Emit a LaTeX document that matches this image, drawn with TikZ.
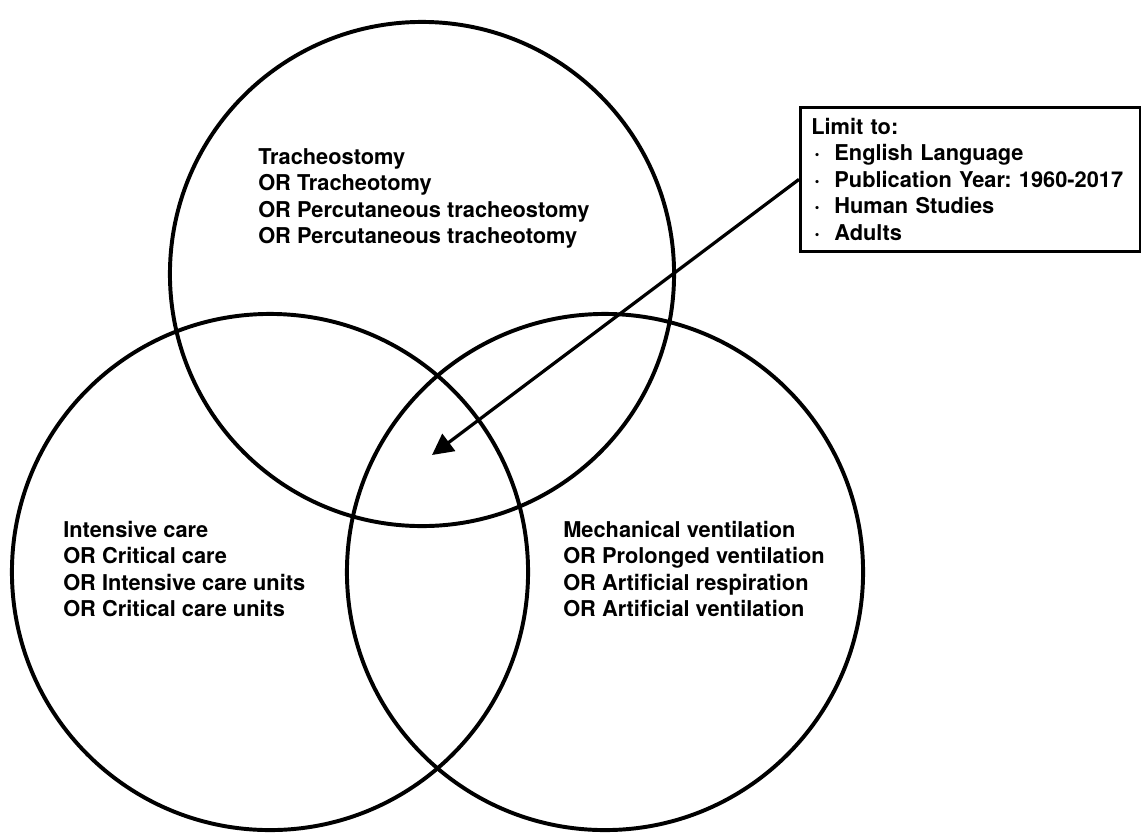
\documentclass[tikz,border=0pt]{standalone}
\usepackage{fontspec}
\setmainfont{TeX Gyre Heros}
\usetikzlibrary{arrows.meta}
\frenchspacing

\begin{document}
\begin{tikzpicture}[x=0.025cm,y=-0.025cm,
    venn/.style={circle,draw,line width=2.8pt,inner sep=0pt,outer sep=0pt},
    terms/.style={anchor=north west,align=left,inner sep=0pt,
      font=\fontsize{15.5pt}{18.8pt}\selectfont\bfseries}]
      \useasboundingbox (0,0) rectangle (1141,836);

      \node [venn,minimum size=12.6cm] (trach) at (422,274) {};
      \node [venn,minimum size=12.9cm] (icu) at (270,572) {};
      \node [venn,minimum size=12.9cm] (vent) at (605,572) {};

      \node [terms] (trachterms) at (258,148) {Tracheostomy\\OR Tracheotomy\\OR Percutaneous tracheostomy\\OR Percutaneous tracheotomy};
      \node [terms] (icuterms) at (63,521) {Intensive care\\OR Critical care\\OR Intensive care units\\OR Critical care units};
      \node [terms] (ventterms) at (563,521) {Mechanical ventilation\\OR Prolonged ventilation\\OR Artificial respiration\\OR Artificial ventilation};

      \node [draw,line width=1.9pt,anchor=north west,minimum width=8.5cm,minimum height=3.6cm,
        inner xsep=0.275cm,text width=7.95cm,align=left,
        font=\fontsize{15.5pt}{18.8pt}\selectfont\bfseries] (limit) at (799,106)
        {Limit to:\\
         \makebox[16.4pt][l]{\hspace{2pt}·}English Language\\
         \makebox[16.4pt][l]{\hspace{2pt}·}Publication Year: 1960-2017\\
         \makebox[16.4pt][l]{\hspace{2pt}·}Human Studies\\
         \makebox[16.4pt][l]{\hspace{2pt}·}Adults};

      \coordinate (core) at (432,455);
      \draw [line width=2.3pt,-{Triangle[length=15pt,width=15pt]}] (limit.west) to (core);

\end{tikzpicture}
\end{document}
